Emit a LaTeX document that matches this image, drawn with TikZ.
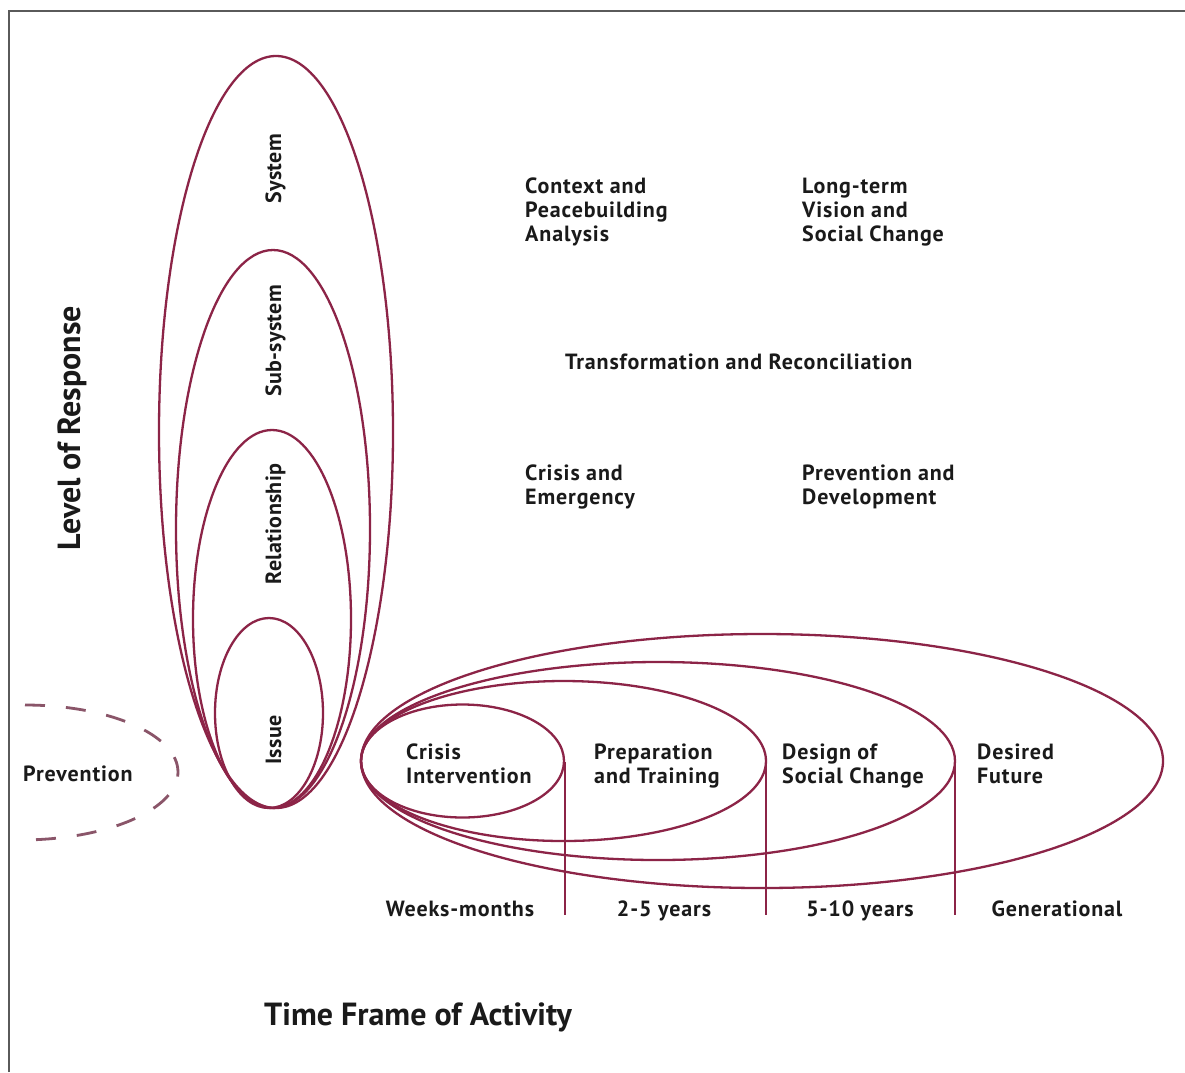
\documentclass[tikz,border=0pt]{standalone}
\usepackage{fontspec}
\setmainfont{PT Sans}
\definecolor{ringc}{HTML}{8C2447}
\definecolor{dashc}{HTML}{8A5569}
\definecolor{framec}{HTML}{5A5A5A}
\definecolor{txt}{HTML}{1A1A1A}
\begin{document}
\begin{tikzpicture}[x=1pt,y=-1pt,
  ringline/.style={draw=ringc, line width=2.3pt},
  tick/.style={draw=ringc, line width=1.6pt},
  lbl/.style={font=\bfseries\fontsize{22}{24}\selectfont\addfontfeatures{LetterSpace=4}, inner sep=0pt, align=left, text=txt},
  vlbl/.style={font=\bfseries\fontsize{22}{24}\selectfont\addfontfeatures{LetterSpace=1.5}, inner sep=0pt, text=txt, rotate=90, anchor=base},
  axis/.style={font=\bfseries\fontsize{32}{36}\selectfont, inner sep=0pt, text=txt, anchor=base}]
\useasboundingbox (0,0) rectangle (1185,1072);
\fill[white] (0,0) rectangle (1185,1072);
\draw[framec, line width=2pt] (9,1072) -- (9,11) -- (1185,11);

% vertical (level) ellipses
\draw[ringline] (276,432) ellipse [x radius=117pt, y radius=376pt];
\draw[ringline] (273,529) ellipse [x radius=97pt, y radius=279pt];
\draw[ringline] (272,619) ellipse [x radius=79pt, y radius=189pt];
\draw[ringline] (269,713) ellipse [x radius=54pt, y radius=95pt];

% horizontal (time) ellipses
\draw[ringline] (462.5,761) ellipse [x radius=101.5pt, y radius=56.5pt];
\draw[ringline] (563.5,761) ellipse [x radius=202.5pt, y radius=80pt];
\draw[ringline] (658,761) ellipse [x radius=297pt, y radius=99pt];
\draw[ringline] (762,761) ellipse [x radius=401pt, y radius=127pt];

% dividers
\coordinate (d1t) at (565,762); \coordinate (d1b) at (565,915);
\coordinate (d2t) at (766,762); \coordinate (d2b) at (766,915);
\coordinate (d3t) at (955,762); \coordinate (d3b) at (955,915);
\draw[tick] (d1t) -- (d1b);
\draw[tick] (d2t) -- (d2b);
\draw[tick] (d3t) -- (d3b);

% prevention (dashed half ellipse)
\coordinate (pv1) at (25,705);
\coordinate (pv2) at (178,772);
\coordinate (pv3) at (20,840);
\draw[dashc, line width=2.8pt, dash pattern=on 20pt off 21pt]
  (pv1) .. controls (109.5,705) and (178,735) .. (pv2)
        .. controls (178,809) and (108,840) .. (pv3);

% level labels
\node[vlbl] (sys) at (281,169) {System};
\node[vlbl] (sub) at (281,341) {Sub-system};
\node[vlbl] (rel) at (281,524) {Relationship};
\node[vlbl] (iss) at (281,740) {Issue};

% time labels (base = last line)
\node[lbl, anchor=base west] (ci) at (406,783) {Crisis\\Intervention};
\node[lbl, anchor=base west] (pt) at (594,783) {Preparation\\and Training};
\node[lbl, anchor=base west] (ds) at (782,783) {Design of\\Social Change};
\node[lbl, anchor=base west] (df) at (977,783) {Desired\\Future};

\node[lbl, anchor=base] (wm) at (460,916) {Weeks-months};
\node[lbl, anchor=base] (y25) at (664,916) {2-5 years};
\node[lbl, anchor=base] (y510) at (860,916) {5-10 years};
\node[lbl, anchor=base] (gen) at (1057,916) {Generational};

\node[lbl, anchor=base west] (prev) at (23,781) {Prevention};

% quadrant labels
\node[lbl, anchor=base west] (cpa) at (525,241) {Context and\\Peacebuilding\\Analysis};
\node[lbl, anchor=base west] (ltv) at (802,241) {Long-term\\Vision and\\Social Change};
\node[lbl, anchor=base west] (tr) at (565,369) {Transformation and Reconciliation};
\node[lbl, anchor=base west] (ce) at (525,504) {Crisis and\\Emergency};
\node[lbl, anchor=base west] (pd) at (802,504) {Prevention and\\Development};

% axis titles
\node[axis, rotate=90] (lor) at (80,428) {Level of Response};
\node[axis] (tfa) at (418,1025) {Time Frame of Activity};
\end{tikzpicture}
\end{document}
